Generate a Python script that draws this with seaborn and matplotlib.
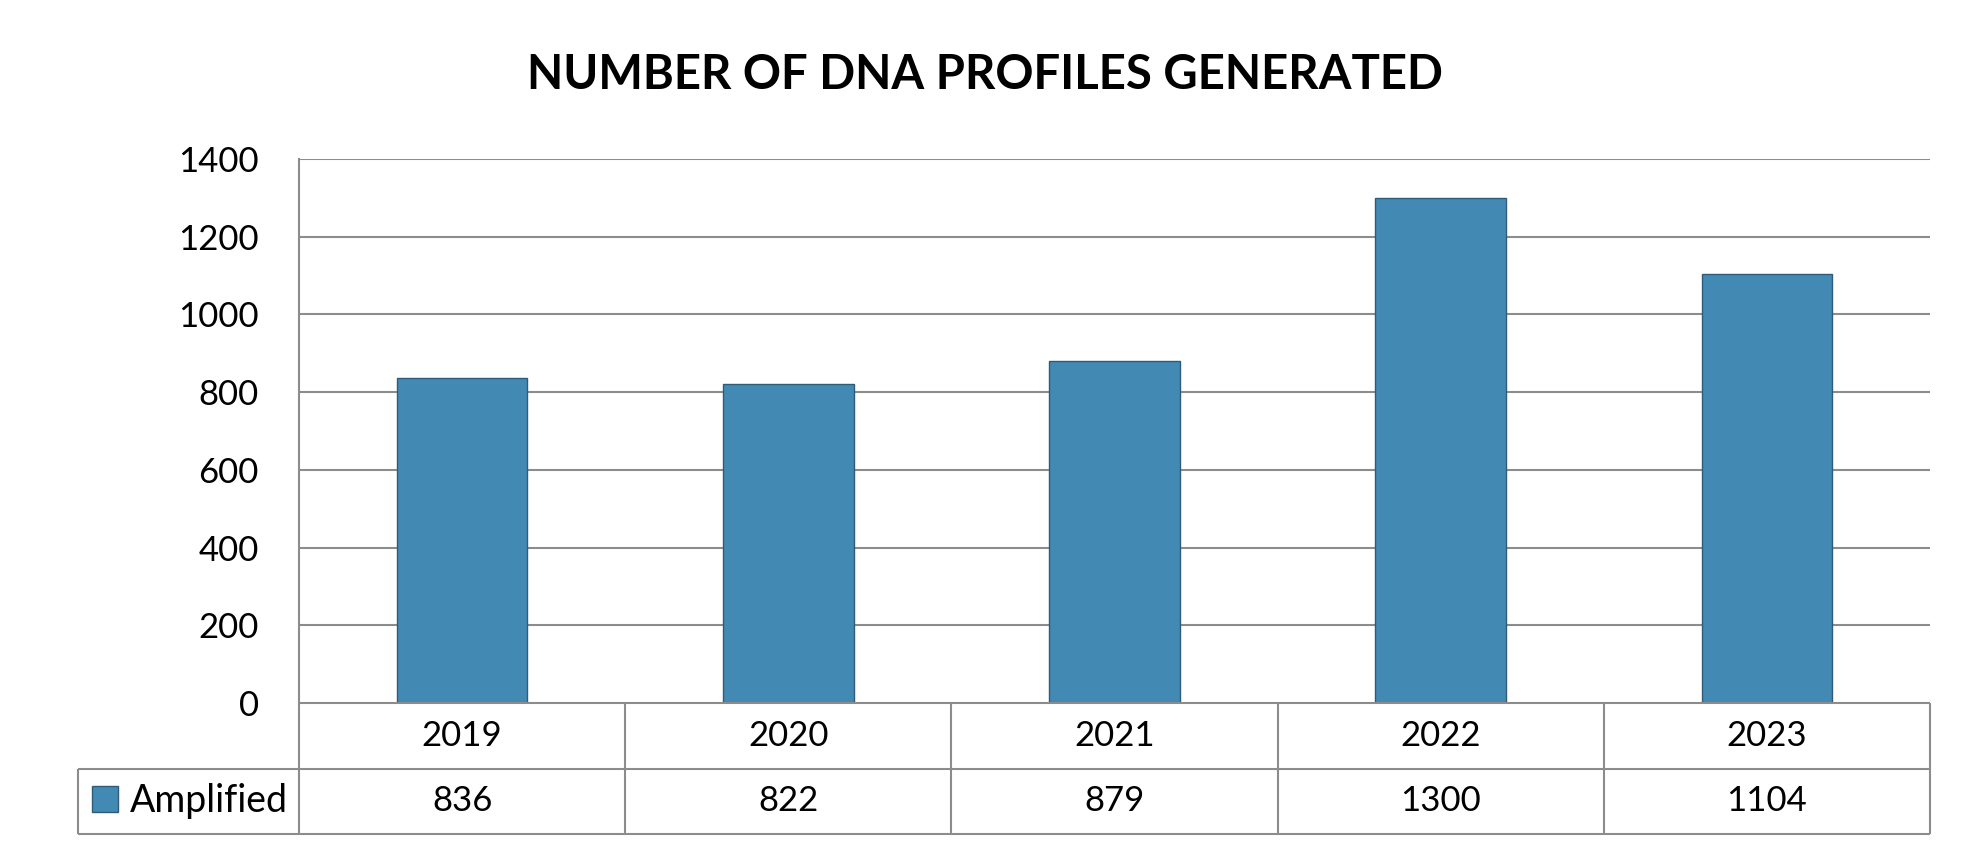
import numpy as np
import pandas as pd
import matplotlib
matplotlib.use("Agg")
import matplotlib.pyplot as plt
import seaborn as sns

years = ["2019", "2020", "2021", "2022", "2023"]
amplified = [836, 822, 879, 1300, 1104]
series_name = "Amplified"
title = "NUMBER OF DNA PROFILES GENERATED"
y_ticks = [0, 200, 400, 600, 800, 1000, 1200, 1400]

df = pd.DataFrame({"year": years, "count": amplified})

sns.set_style("white")
plt.rcParams["font.family"] = ["Lato", "DejaVu Sans"]
plt.rcParams["text.color"] = "black"
plt.rcParams["ytick.color"] = "black"
plt.rcParams["ytick.labelcolor"] = "black"

bar_color = "#4289b4"
edge_color = "#2e5c78"
line_color = "#8c8c8c"
fs = 25

W, H = 1980, 858
fig = plt.figure(figsize=(W / 100, H / 100), dpi=100)

# plot area in pixels
x0, x1 = 299, 1930
y_top, y_zero = 159, 703
ax = fig.add_axes([x0 / W, 1 - y_zero / H, (x1 - x0) / W, (y_zero - y_top) / H])

sns.barplot(data=df, x="year", y="count", ax=ax, color=bar_color, width=0.4,
            edgecolor=edge_color, linewidth=1.0, saturation=1, label=series_name)
ax.set_xlim(-0.5, len(years) - 0.5)
ax.set_ylim(0, 1400)
ax.set_yticks(y_ticks)
ax.set_yticklabels([str(v) for v in y_ticks], fontsize=fs, color="black")
ax.tick_params(axis="y", length=0, pad=29)
ax.set_xticks([])
ax.set_xlabel("")
ax.set_ylabel("")
for v in y_ticks[1:]:
    ax.axhline(v, color=line_color, lw=1.5, zorder=0)
for s in ["top", "right", "bottom"]:
    ax.spines[s].set_visible(False)
ax.spines["left"].set_color(line_color)
ax.spines["left"].set_linewidth(1.5)

# data table below the chart
tab_left, tab_bottom = 78, 834
cat_w = (x1 - x0) / len(years)
extra = (x0 - tab_left) / cat_w
tax = fig.add_axes([tab_left / W, 1 - tab_bottom / H, (x1 - tab_left) / W, (tab_bottom - y_zero) / H])
tax.set_xlim(-0.5 - extra, len(years) - 0.5)
tax.set_ylim(0, 2)
tax.axis("off")
lkw = dict(color=line_color, lw=1.5, clip_on=False)
tax.hlines(2, -0.5, len(years) - 0.5, **lkw)
tax.hlines([0, 1], -0.5 - extra, len(years) - 0.5, **lkw)
tax.vlines(-0.5 - extra, 0, 1, **lkw)
tax.vlines(np.arange(len(years) + 1) - 0.5, 0, 2, **lkw)
for i, (yr, v) in enumerate(zip(years, amplified)):
    tax.text(i, 1.5, yr, ha="center", va="center", fontsize=fs, color="black")
    tax.text(i, 0.5, str(v), ha="center", va="center", fontsize=fs, color="black")

leg = ax.legend(loc="center left", bbox_to_anchor=(92 / W, 1 - 801 / H),
                bbox_transform=fig.transFigure, frameon=False, fontsize=27,
                handlelength=0.7, handleheight=0.7, handletextpad=0.3,
                borderaxespad=0, borderpad=0)
for t in leg.get_texts():
    t.set_color("black")

fig.text(985 / W, 1 - 75 / H, title, ha="center", va="center",
         fontsize=34, fontweight="bold", color="black")

fig.savefig("out.png", dpi=100)
